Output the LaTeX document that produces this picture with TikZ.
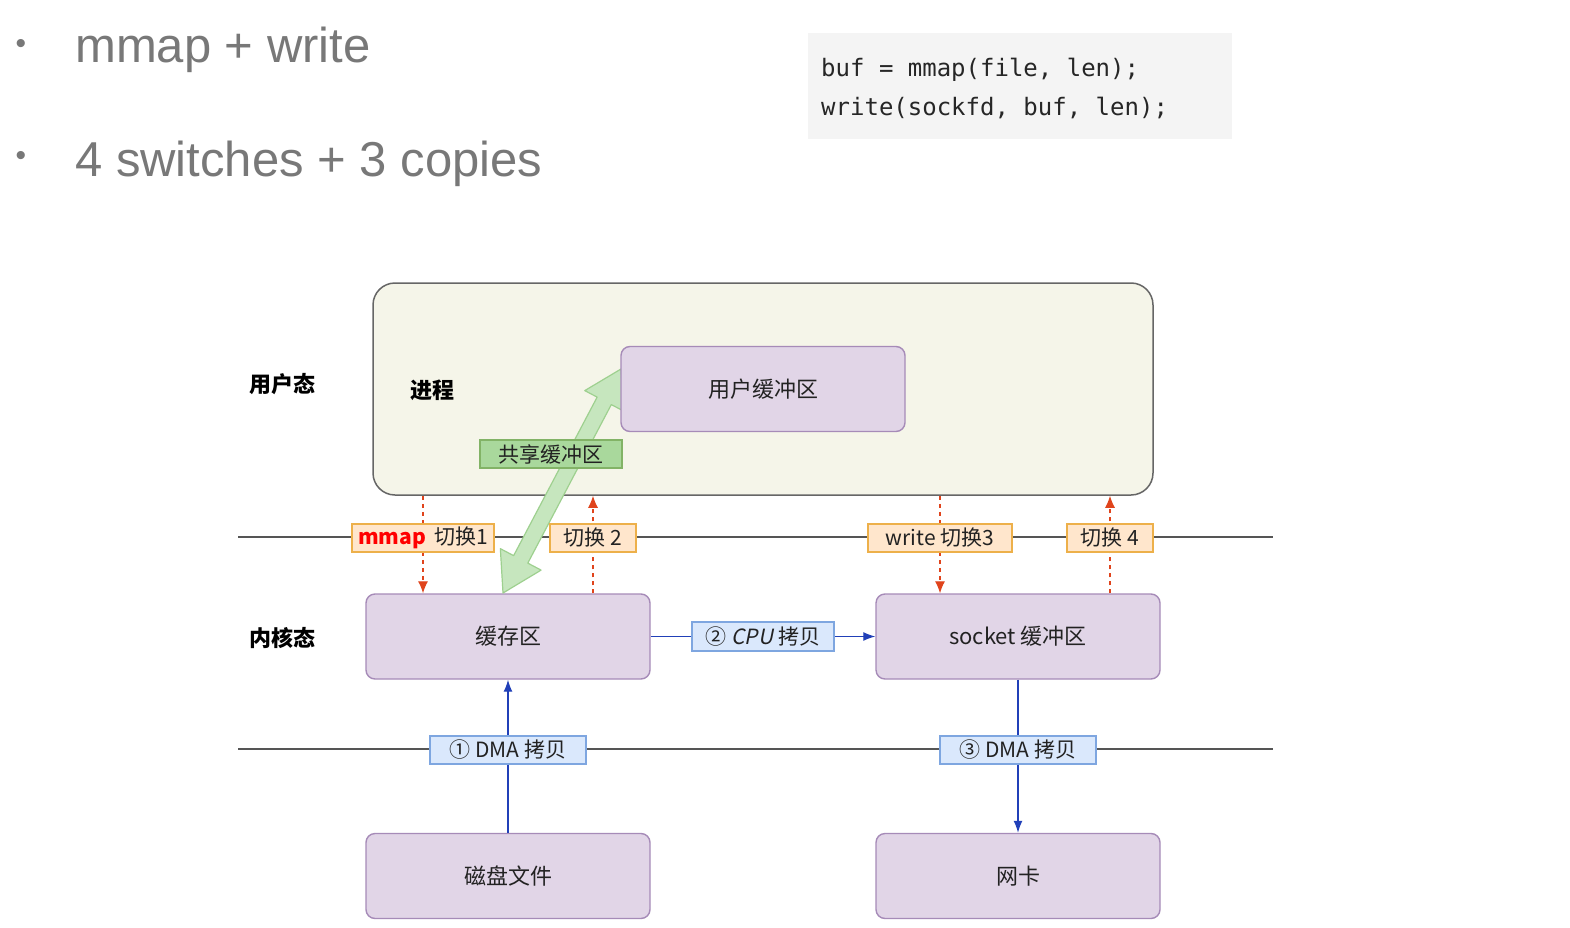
\documentclass[tikz,border=0pt]{standalone}
\usepackage{fontspec}
\setmainfont{Liberation Sans}
\newfontfamily\cjk{Noto Sans CJK SC}
\newfontfamily\cjkit[FakeSlant=0.2]{Noto Sans CJK SC}
\newfontfamily\monof{DejaVu Sans Mono}
\usetikzlibrary{calc,arrows.meta}
\definecolor{headgray}{HTML}{787878}
\definecolor{codebg}{HTML}{F4F4F4}
\definecolor{procfill}{HTML}{F5F5E9}
\definecolor{procdraw}{HTML}{666666}
\definecolor{purfill}{HTML}{E1D5E7}
\definecolor{purdraw}{HTML}{A68BB8}
\definecolor{orfill}{HTML}{FFE6CC}
\definecolor{ordraw}{HTML}{EDB04A}
\definecolor{blfill}{HTML}{DAE8FC}
\definecolor{bldraw}{HTML}{7EA6E0}
\definecolor{grfill}{HTML}{A9D89C}
\definecolor{grdraw}{HTML}{82B366}
\definecolor{arrfill}{HTML}{C6E6BE}
\definecolor{arrdraw}{HTML}{9ED08F}
\definecolor{bluearr}{HTML}{2140B8}
\definecolor{redarr}{HTML}{E0441C}
\definecolor{linegray}{HTML}{555555}
\definecolor{txt}{HTML}{222222}
\tikzset{
  purbox/.style={draw=purdraw, fill=purfill, line width=1.4pt, rounded corners=9pt,
    minimum width=284pt, minimum height=85pt, inner sep=0pt, text=txt,
    font=\cjk\fontsize{22}{26}\selectfont},
  orlabel/.style={draw=ordraw, fill=orfill, line width=1.2pt, minimum height=28pt,
    inner sep=0pt, text=txt, font=\cjk\fontsize{21}{25}\selectfont},
  bllabel/.style={draw=bldraw, fill=blfill, line width=1.2pt, minimum height=28pt,
    inner sep=0pt, text=txt, font=\cjk\fontsize{21}{25}\selectfont},
  sidelabel/.style={font=\cjk\bfseries\fontsize{22}{26}\selectfont, text=black},
  redarrow/.style={draw=redarr, line width=1.2pt, dash pattern=on 4pt off 4pt,
    -{Latex[length=12pt,width=10pt]}},
  bluearrow/.style={draw=bluearr, line width=1.3pt, -{Latex[length=12pt,width=9pt]}},
  sepline/.style={draw=linegray, line width=1.3pt},
  headtext/.style={anchor=base west, inner sep=0pt, text=headgray,
    font=\fontsize{49}{58}\selectfont},
  bullet/.style={anchor=base, inner sep=0pt, text=headgray,
    font=\fontsize{30}{36}\selectfont}
}
\begin{document}
\begin{tikzpicture}[x=1pt,y=-1pt]
\useasboundingbox (0,0) rectangle (1570,928);
\fill[white] (0,0) rectangle (1570,928);

% header
\node[bullet] (b1) at (21,54) {•};
\node[headtext] (h1) at (75,63) {mmap + write};
\node[bullet] (b2) at (21,166) {•};
\node[headtext] (h2) at (75,176) {4 switches + 3 copies};

% code box
\fill[codebg] (808,33) rectangle (1232,139);
\node[anchor=base west, inner sep=0pt, font=\monof\fontsize{24}{28}\selectfont, text=black!85] (c1) at (821,77) {buf = mmap(file, len);};
\node[anchor=base west, inner sep=0pt, font=\monof\fontsize{24}{28}\selectfont, text=black!85] (c2) at (821,116) {write(sockfd, buf, len);};

% separator lines
\coordinate (l1a) at (238,537);
\coordinate (l1b) at (1273,537);
\coordinate (l2a) at (238,749);
\coordinate (l2b) at (1273,749);
\draw[sepline] (l1a) -- (l1b);
\draw[sepline] (l2a) -- (l2b);

% process box
\node[draw=procdraw, fill=procfill, line width=1.5pt, rounded corners=22pt,
  minimum width=780pt, minimum height=212pt] (proc) at (763,389) {};
\node[sidelabel] (jc) at (432,390) {进程};
\node[sidelabel] (yht) at (282,384) {用户态};
\node[sidelabel] (nht) at (282,638) {内核态};

% kernel boxes
\node[purbox] (cache) at (508,636.5) {缓存区};
\node[purbox] (sock) at (1018,636.5) {socket 缓冲区};
\node[purbox] (disk) at (508,876) {磁盘文件};
\node[purbox] (nic) at (1018,876) {网卡};

% shared buffer double arrow
\coordinate (B) at (503,593);
\coordinate (T) at (621,369);
\coordinate (P1) at ($(B)!38pt!(T)$);
\coordinate (P2) at ($(T)!36pt!(B)$);
\filldraw[fill=arrfill, draw=arrdraw, line width=1.2pt, line join=round]
  (B) -- ($(P1)!23pt!90:(T)$) -- ($(P1)!8pt!90:(T)$) -- ($(P2)!8pt!-90:(B)$)
  -- ($(P2)!22pt!-90:(B)$) -- (T) -- ($(P2)!22pt!90:(B)$) -- ($(P2)!8pt!90:(B)$)
  -- ($(P1)!8pt!-90:(T)$) -- ($(P1)!23pt!-90:(T)$) -- cycle;

\node[purbox] (ubuf) at (763,389) {用户缓冲区};
\node[draw=grdraw, fill=grfill, line width=1.2pt, minimum width=142pt, minimum height=28pt,
  inner sep=0pt, text=txt, font=\cjk\fontsize{21}{25}\selectfont] (share) at (551,454) {共享缓冲区};

% switch labels (positions)
\coordinate (s1) at (423,538);
\coordinate (s2) at (593,538);
\coordinate (s3) at (940,538);
\coordinate (s4) at (1110,538);

% red dashed arrows
\draw[redarrow] (s1 |- proc.south) -- (s1 |- cache.north);
\draw[redarrow] (s2 |- cache.north) -- (s2 |- proc.south);
\draw[redarrow] (s3 |- proc.south) -- (s3 |- sock.north);
\draw[redarrow] (s4 |- sock.north) -- (s4 |- proc.south);

\node[orlabel, minimum width=142pt] (m1) at (s1) {\textcolor{red}{\bfseries mmap}\, 切换1};
\node[orlabel, minimum width=86pt] (m2) at (s2) {切换 2};
\node[orlabel, minimum width=144pt] (m3) at (s3) {write 切换3};
\node[orlabel, minimum width=86pt] (m4) at (s4) {切换 4};

% blue arrows
\draw[bluearrow] (cache.east) -- (sock.west);
\draw[bluearrow] (disk.north) -- (cache.south);
\draw[bluearrow] (sock.south) -- (nic.north);
\node[bllabel, minimum width=142pt, minimum height=29pt] (cpu) at (763,636.5) {② {\cjkit CPU} 拷贝};
\node[bllabel, minimum width=156pt] (dma1) at (508,750) {① DMA 拷贝};
\node[bllabel, minimum width=156pt] (dma3) at (1018,750) {③ DMA 拷贝};
\end{tikzpicture}
\end{document}
